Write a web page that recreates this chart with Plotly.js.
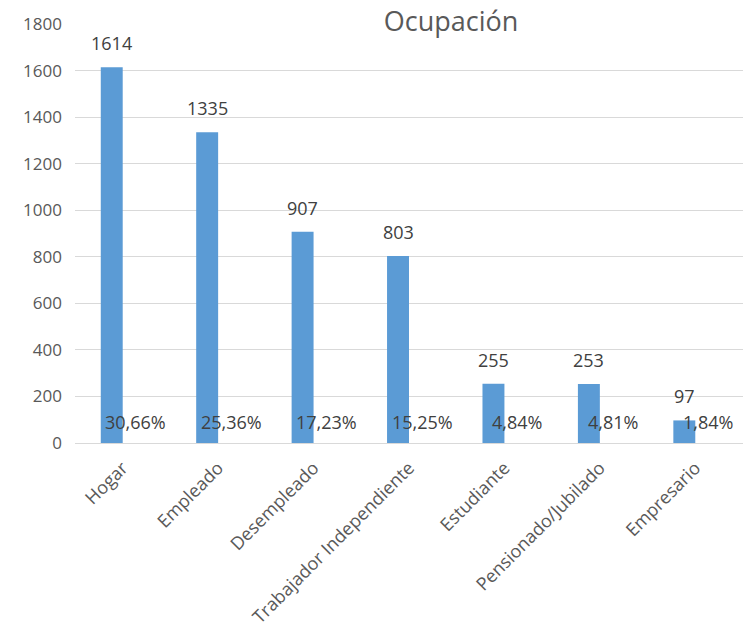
<!DOCTYPE html>
<html>
<head>
<meta charset="utf-8">
<script src="https://cdn.plot.ly/plotly-3.0.1.min.js"></script>
<style>html,body{margin:0;padding:0;background:#fff;}#chart{width:744px;height:630px;}</style>
</head>
<body>
<div id="chart"></div>
<script>
const categories = ["Hogar", "Empleado", "Desempleado", "Trabajador Independiente", "Estudiante", "Pensionado/Jubilado", "Empresario"];
const counts = [1614, 1335, 907, 803, 255, 253, 97];
const percentages = [30.66, 25.36, 17.23, 15.25, 4.84, 4.81, 1.84];
const yTicks = [0, 200, 400, 600, 800, 1000, 1200, 1400, 1600, 1800];

const fontFam = '"Open Sans", "DejaVu Sans", sans-serif';
const gray = '#595959';

const pctText = percentages.map(p => p.toFixed(2).replace('.', ',') + '%');

const traceCounts = {
  type: 'bar', x: categories, y: counts,
  marker: {color: '#5B9BD5'}, hoverinfo: 'none', showlegend: false
};
const tracePct = {
  type: 'bar', x: categories, y: percentages.map(p => p / 100),
  marker: {color: 'rgba(0,0,0,0)'}, hoverinfo: 'none', showlegend: false
};

const annotations = [];
categories.forEach((c, i) => {
  annotations.push({
    x: c, y: counts[i], xref: 'x', yref: 'y', text: String(counts[i]),
    showarrow: false, yanchor: 'bottom', xanchor: 'center', xshift: -11, yshift: 10,
    font: {family: fontFam, size: 18, color: '#404040'}
  });
  annotations.push({
    x: c, y: 0, xref: 'x', yref: 'y', text: pctText[i],
    showarrow: false, yanchor: 'bottom', xanchor: 'center', xshift: 13, yshift: 7,
    font: {family: fontFam, size: 18, color: '#404040'}
  });
});

const layout = {
  width: 744, height: 630,
  margin: {l: 75, r: 1, t: 24, b: 187},
  paper_bgcolor: '#fff', plot_bgcolor: '#fff',
  barmode: 'group', bargap: 0.54, bargroupgap: 0,
  title: {
    text: 'Ocupación', x: 451 / 744, xref: 'container', xanchor: 'center',
    y: 1 - 22 / 630, yref: 'container', yanchor: 'middle',
    font: {family: fontFam, size: 27, color: gray}
  },
  xaxis: {
    type: 'category', tickangle: -45, showgrid: false, showline: false, zeroline: false,
    ticks: '', tickfont: {family: fontFam, size: 18, color: gray}, ticklabelstandoff: 10
  },
  yaxis: {
    range: [0, 1800], tickvals: yTicks, ticktext: yTicks.map(String),
    showgrid: true, gridcolor: '#D9D9D9', gridwidth: 1, zeroline: true, zerolinecolor: '#D9D9D9',
    showline: false, ticks: '', tickfont: {family: fontFam, size: 17, color: gray},
    ticklabelstandoff: 12
  },
  annotations: annotations
};

Plotly.newPlot('chart', [traceCounts, tracePct], layout, {displayModeBar: false, staticPlot: true});
</script>
</body>
</html>
